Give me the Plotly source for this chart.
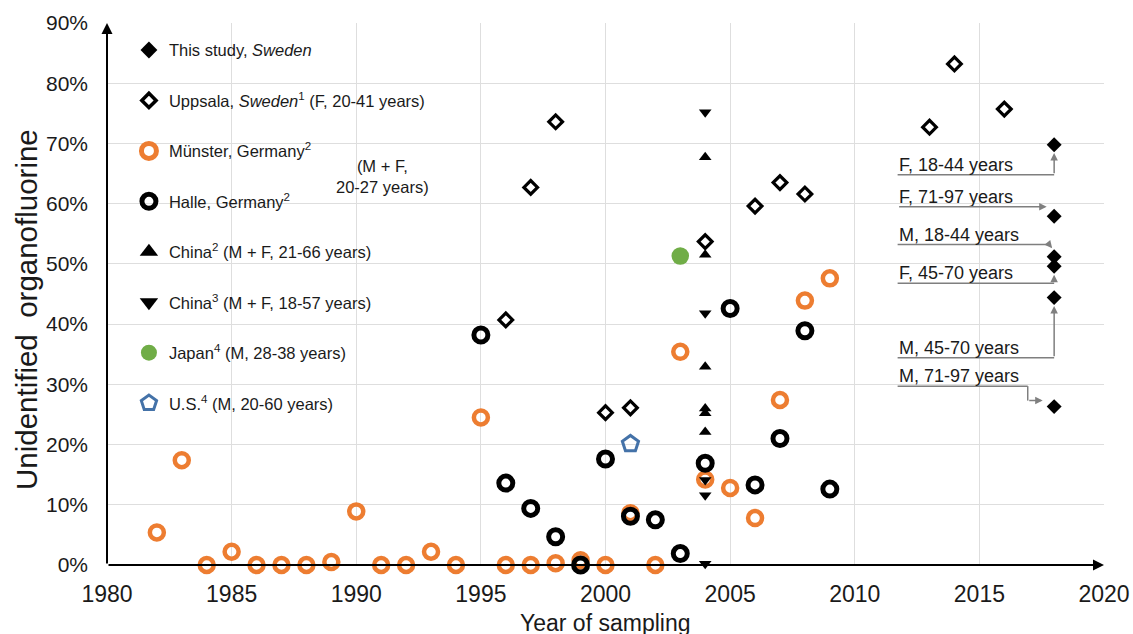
import plotly.graph_objects as go

FONT = "Liberation Sans, Arial, sans-serif"
INK = "#1a1a1a"
GRID = "#dedede"
CALLOUT = "#7f7f7f"

# ---- data: unidentified organofluorine (% of total extractable organofluorine) ----
study_groups = ["F, 18-44 years", "F, 71-97 years", "M, 18-44 years",
                "F, 45-70 years", "M, 45-70 years", "M, 71-97 years"]
study_year = [2018, 2018, 2018, 2018, 2018, 2018]
study_pct = [69.8, 57.9, 51.2, 49.6, 44.4, 26.3]

uppsala_year = [1996, 1997, 1998, 2000, 2001, 2004, 2006, 2007, 2008, 2013, 2014, 2016]
uppsala_pct = [40.7, 62.7, 73.6, 25.3, 26.1, 53.7, 59.6, 63.5, 61.6, 72.7, 83.2, 75.7]

munster_year = [1982, 1983, 1984, 1985, 1986, 1987, 1988, 1989, 1990, 1991, 1992, 1993, 1994,
                1995, 1996, 1997, 1998, 1999, 2000, 2001, 2002, 2003, 2004, 2005, 2006, 2007,
                2008, 2009]
munster_pct = [5.4, 17.4, 0.0, 2.2, 0.0, 0.0, 0.0, 0.5, 8.9, 0.0, 0.0, 2.2, 0.0,
               24.5, 0.0, 0.0, 0.3, 0.8, 0.0, 8.6, 0.0, 35.4, 14.2, 12.8, 7.8, 27.4,
               43.9, 47.6]

halle_year = [1995, 1996, 1997, 1998, 1999, 2000, 2001, 2002, 2003, 2004, 2005, 2006,
              2007, 2008, 2009]
halle_pct = [38.2, 13.6, 9.4, 4.7, 0.0, 17.6, 8.1, 7.5, 1.9, 16.9, 42.6, 13.3,
             21.0, 38.9, 12.6]

china2_year = [2004, 2004, 2004, 2004, 2004, 2004]
china2_pct = [67.7, 51.5, 32.9, 26.0, 25.2, 22.1]

china3_year = [2004, 2004, 2004, 2004, 2004]
china3_pct = [75.2, 41.8, 14.1, 11.6, 0.2]

japan_year = [2003]
japan_pct = [51.3]

us_year = [2001]
us_pct = [20.1]

x_ticks = [1980, 1985, 1990, 1995, 2000, 2005, 2010, 2015, 2020]
y_ticks = [0, 10, 20, 30, 40, 50, 60, 70, 80, 90]
y_tick_text = [f"{v}%" for v in y_ticks]

# ---- series styling: (name, x, y, plot marker, legend marker) ----
series = [
    ("This study, <i>Sweden</i>", study_year, study_pct,
     dict(symbol="diamond", size=11.5, color="#000000", line=dict(width=0)),
     dict(symbol="diamond", size=13, color="#000000", line=dict(width=0))),
    ("Uppsala, <i>Sweden</i><sup>1</sup> (F, 20-41 years)", uppsala_year, uppsala_pct,
     dict(symbol="diamond", size=10.5, color="#ffffff", line=dict(width=3.2, color="#000000")),
     dict(symbol="diamond", size=11, color="#ffffff", line=dict(width=3.5, color="#000000"))),
    ("Münster, Germany<sup>2</sup>", munster_year, munster_pct,
     dict(symbol="circle", size=14, color="rgba(255,255,255,0)", line=dict(width=4.5, color="#ED7D31")),
     dict(symbol="circle", size=15, color="rgba(255,255,255,0)", line=dict(width=5, color="#ED7D31"))),
    ("Halle, Germany<sup>2</sup>", halle_year, halle_pct,
     dict(symbol="circle", size=14, color="rgba(255,255,255,0)", line=dict(width=5, color="#000000")),
     dict(symbol="circle", size=14, color="rgba(255,255,255,0)", line=dict(width=5, color="#000000"))),
    ("China<sup>2</sup> (M + F, 21-66 years)", china2_year, china2_pct,
     dict(symbol="triangle-up", size=11, color="#000000", line=dict(width=0)),
     dict(symbol="triangle-up", size=16, color="#000000", line=dict(width=0))),
    ("China<sup>3</sup> (M + F, 18-57 years)", china3_year, china3_pct,
     dict(symbol="triangle-down", size=11, color="#000000", line=dict(width=0)),
     dict(symbol="triangle-down", size=16, color="#000000", line=dict(width=0))),
    ("Japan<sup>4</sup> (M, 28-38 years)", japan_year, japan_pct,
     dict(symbol="circle", size=17.5, color="#70AD47", line=dict(width=0)),
     dict(symbol="circle", size=16, color="#70AD47", line=dict(width=0))),
    ("U.S.<sup>4</sup> (M, 20-60 years)", us_year, us_pct,
     dict(symbol="pentagon", size=17, color="rgba(255,255,255,0)", line=dict(width=3, color="#4472A8")),
     dict(symbol="pentagon", size=16, color="rgba(255,255,255,0)", line=dict(width=3, color="#4472A8"))),
]

fig = go.Figure()
for i, (name, xs, ys, mk, legend_mk) in enumerate(series):
    fig.add_trace(go.Scatter(x=xs, y=ys, mode="markers", name=name, marker=mk,
                             legendgroup=f"g{i}", showlegend=False, cliponaxis=False))
    # legend key with a larger symbol than the plotted points
    fig.add_trace(go.Scatter(x=[None], y=[None], mode="markers", name=name,
                             marker=legend_mk, legendgroup=f"g{i}", showlegend=True,
                             hoverinfo="skip"))

annotations = []
shapes = []

# white panel behind the legend, drawn above the grid but below the markers
shapes.append(dict(type="rect", xref="paper", yref="paper", layer="between",
                   x0=0.013, x1=0.337, y0=0.253, y1=0.996,
                   fillcolor="#ffffff", line=dict(width=0)))

# axes drawn as arrows
annotations.append(dict(x=x_ticks[-1], y=0, ax=x_ticks[0], ay=0, xref="x", yref="y",
                        axref="x", ayref="y", text="", showarrow=True,
                        arrowhead=2, arrowsize=1.1, arrowwidth=2, arrowcolor="#000000"))
annotations.append(dict(x=x_ticks[0], y=y_ticks[-1], ax=x_ticks[0], ay=0, xref="x", yref="y",
                        axref="x", ayref="y", text="", showarrow=True,
                        arrowhead=2, arrowsize=1.1, arrowwidth=2, arrowcolor="#000000"))

# bracket note for the two German cohorts
annotations.append(dict(x=0.2768, y=0.7168, xref="paper", yref="paper",
                        xanchor="center", yanchor="middle",
                        text="(M + F,<br>20-27 years)", showarrow=False,
                        font=dict(family=FONT, size=16.5, color=INK), align="center"))

# axis titles
annotations.append(dict(x=-0.0802, y=0.4705, xref="paper", yref="paper",
                        xanchor="center", yanchor="middle",
                        text="Unidentified  organofluorine", textangle=-90, showarrow=False,
                        font=dict(family=FONT, size=29.5, color=INK)))
annotations.append(dict(x=0.4995, y=-0.107, xref="paper", yref="paper",
                        xanchor="center", yanchor="middle",
                        text="Year of sampling", showarrow=False,
                        font=dict(family=FONT, size=23, color=INK)))

# callouts for the groups of this study: label over a rule, elbow, arrow to the marker
label_x = 2011.72
label_y = [64.8, 59.5, 53.2, 46.8, 34.4, 29.7]
tx = study_year[0]
routes = [
    [(label_x, label_y[0]), (tx, label_y[0]), (tx, study_pct[0] - 1.4)],
    [(label_x, label_y[1]), (tx - 0.3, label_y[1])],
    [(label_x, label_y[2]), (tx - 0.2, label_y[2]), (tx - 0.08, study_pct[2] + 1.4)],
    [(label_x, label_y[3]), (tx, label_y[3]), (tx, study_pct[3] - 1.4)],
    [(label_x, label_y[4]), (tx, label_y[4]), (tx, study_pct[4] - 1.4)],
    [(label_x, label_y[5]), (tx - 1.06, label_y[5]), (tx - 1.06, study_pct[5] + 1.0),
     (tx - 0.46, study_pct[5] + 1.0)],
]
for grp, ly, route in zip(study_groups, label_y, routes):
    annotations.append(dict(x=label_x, y=ly, xref="x", yref="y", text=grp,
                            xanchor="left", yanchor="bottom", showarrow=False,
                            borderpad=0, yshift=-1,
                            font=dict(family=FONT, size=18, color=INK)))
    for (x0, y0), (x1, y1) in zip(route[:-2], route[1:-1]):
        shapes.append(dict(type="line", xref="x", yref="y", x0=x0, y0=y0, x1=x1, y1=y1,
                           line=dict(color=CALLOUT, width=1.5)))
    (ax0, ay0), (hx, hy) = route[-2], route[-1]
    annotations.append(dict(x=hx, y=hy, ax=ax0, ay=ay0, xref="x", yref="y",
                            axref="x", ayref="y", text="", showarrow=True,
                            arrowhead=2, arrowsize=1, arrowwidth=1.5,
                            arrowcolor=CALLOUT))

fig.update_layout(
    width=1133, height=634, autosize=False,
    margin=dict(l=107, r=29, t=23, b=69, pad=0, autoexpand=False),
    paper_bgcolor="#ffffff", plot_bgcolor="#ffffff",
    font=dict(family=FONT, color=INK),
    showlegend=True,
    legend=dict(x=0.022, y=0.982, xanchor="left", yanchor="top",
                bgcolor="rgba(0,0,0,0)", borderwidth=0, tracegroupgap=26,
                itemsizing="trace", font=dict(family=FONT, size=16.5, color=INK)),
    xaxis=dict(range=[x_ticks[0], x_ticks[-1]], tickvals=x_ticks, showgrid=True,
               gridcolor=GRID, gridwidth=1, zeroline=False, showline=False, ticks="",
               automargin=False,
               ticklabelstandoff=13, tickfont=dict(family=FONT, size=23, color=INK)),
    yaxis=dict(range=[y_ticks[0], y_ticks[-1]], tickvals=y_ticks, ticktext=y_tick_text,
               showgrid=True, gridcolor=GRID, gridwidth=1, zeroline=False,
               showline=False, ticks="", ticklabelstandoff=18, automargin=False,
               tickfont=dict(family=FONT, size=21, color=INK)),
    annotations=annotations,
    shapes=shapes,
)

fig.write_html("out.html")
